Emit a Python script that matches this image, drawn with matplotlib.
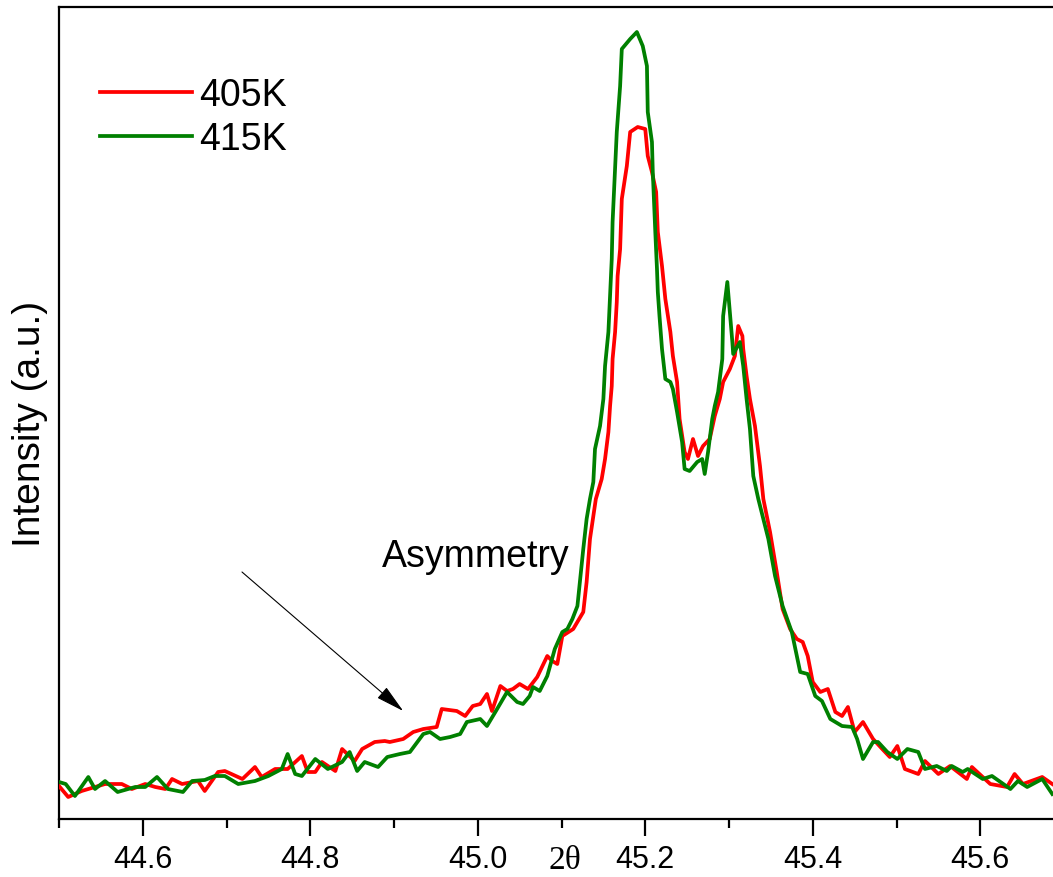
import matplotlib
matplotlib.use("Agg")
import matplotlib.pyplot as plt
from matplotlib.ticker import MultipleLocator

plt.rcParams['font.family'] = ['Liberation Sans', 'DejaVu Sans']

# ---- data (2theta in degrees, intensity in arbitrary units) ----
x_405 = [44.500, 44.511, 44.527, 44.555, 44.575, 44.587, 44.603, 44.615, 44.627, 44.635,
         44.647, 44.666, 44.674, 44.690, 44.698, 44.719, 44.734, 44.742, 44.758, 44.773,
         44.790, 44.797, 44.806, 44.814, 44.830, 44.838, 44.853, 44.862, 44.877, 44.889,
         44.895, 44.911, 44.923, 44.935, 44.951, 44.957, 44.975, 44.985, 44.994, 45.003,
         45.011, 45.017, 45.027, 45.035, 45.042, 45.050, 45.060, 45.071, 45.083, 45.089,
         45.095, 45.101, 45.114, 45.126, 45.130, 45.134, 45.141, 45.148, 45.152, 45.156,
         45.158, 45.160, 45.161, 45.164, 45.166, 45.167, 45.170, 45.172, 45.178, 45.182,
         45.191, 45.200, 45.203, 45.208, 45.213, 45.215, 45.220, 45.224, 45.230, 45.233,
         45.238, 45.241, 45.247, 45.251, 45.257, 45.263, 45.269, 45.277, 45.283, 45.289,
         45.293, 45.301, 45.307, 45.311, 45.316, 45.317, 45.321, 45.325, 45.331, 45.337,
         45.341, 45.349, 45.357, 45.364, 45.373, 45.381, 45.388, 45.394, 45.400, 45.409,
         45.418, 45.427, 45.435, 45.442, 45.450, 45.460, 45.472, 45.483, 45.492, 45.501,
         45.510, 45.526, 45.534, 45.550, 45.564, 45.584, 45.590, 45.612, 45.632, 45.641,
         45.651, 45.674, 45.686]
i_405 = [33, 22, 28, 35, 35, 30, 35, 32, 30, 40,
         35, 38, 28, 47, 48, 40, 52, 42, 50, 50,
         63, 47, 47, 57, 48, 70, 58, 70, 77, 78,
         77, 80, 87, 90, 92, 110, 108, 103, 113, 115,
         125, 108, 133, 128, 130, 135, 130, 142, 163, 158,
         155, 183, 190, 207, 237, 280, 320, 340, 360, 387,
         413, 433, 460, 487, 517, 543, 570, 620, 653, 687,
         692, 690, 663, 647, 627, 587, 553, 520, 487, 463,
         437, 400, 367, 360, 380, 363, 373, 380, 403, 420,
         437, 450, 463, 493, 483, 470, 443, 420, 393, 353,
         320, 287, 247, 210, 190, 180, 177, 163, 137, 127,
         130, 107, 103, 112, 87, 97, 80, 70, 62, 73,
         50, 45, 58, 45, 53, 40, 52, 35, 32, 45,
         35, 42, 35]

x_415 = [44.500, 44.508, 44.519, 44.535, 44.543, 44.555, 44.570, 44.591, 44.603, 44.617,
         44.630, 44.648, 44.659, 44.674, 44.686, 44.698, 44.714, 44.734, 44.750, 44.766,
         44.773, 44.782, 44.790, 44.806, 44.821, 44.838, 44.847, 44.856, 44.865, 44.881,
         44.892, 44.907, 44.919, 44.935, 44.943, 44.955, 44.967, 44.979, 44.987, 45.003,
         45.011, 45.021, 45.035, 45.047, 45.054, 45.062, 45.066, 45.074, 45.083, 45.092,
         45.101, 45.107, 45.113, 45.119, 45.126, 45.130, 45.134, 45.138, 45.140, 45.146,
         45.150, 45.152, 45.156, 45.158, 45.160, 45.161, 45.166, 45.170, 45.172, 45.182,
         45.190, 45.197, 45.202, 45.203, 45.208, 45.209, 45.212, 45.214, 45.215, 45.217,
         45.220, 45.224, 45.230, 45.233, 45.238, 45.244, 45.247, 45.253, 45.262, 45.268,
         45.271, 45.275, 45.280, 45.283, 45.287, 45.292, 45.293, 45.298, 45.301, 45.304,
         45.305, 45.313, 45.317, 45.321, 45.325, 45.329, 45.335, 45.347, 45.355, 45.364,
         45.375, 45.385, 45.394, 45.403, 45.411, 45.421, 45.435, 45.447, 45.453, 45.460,
         45.472, 45.478, 45.489, 45.501, 45.513, 45.526, 45.534, 45.548, 45.560, 45.566,
         45.579, 45.585, 45.603, 45.614, 45.636, 45.645, 45.656, 45.674, 45.686]
i_415 = [37, 35, 23, 42, 30, 38, 27, 32, 32, 42,
         30, 27, 38, 39, 43, 43, 35, 38, 43, 50,
         65, 45, 43, 60, 50, 57, 67, 48, 57, 52,
         62, 65, 67, 85, 87, 80, 82, 85, 97, 100,
         93, 107, 127, 117, 115, 123, 132, 128, 143, 170,
         187, 190, 200, 213, 270, 300, 320, 337, 370, 393,
         420, 453, 487, 523, 560, 597, 687, 733, 770, 780,
         787, 773, 753, 707, 677, 647, 587, 550, 527, 503,
         470, 440, 437, 430, 407, 377, 350, 348, 357, 360,
         345, 367, 400, 413, 427, 460, 503, 537, 507, 477,
         465, 477, 453, 420, 390, 343, 320, 280, 243, 213,
         187, 147, 145, 123, 118, 100, 93, 92, 80, 60,
         77, 77, 67, 60, 70, 67, 50, 53, 48, 53,
         47, 50, 40, 43, 30, 38, 32, 40, 25]

labels = ['405K', '415K']
colors = ['#FF0000', '#008000']
xticks_major = [44.6, 44.8, 45.0, 45.2, 45.4, 45.6]

# ---- figure ----
W, H = 1053, 878
fig = plt.figure(figsize=(W / 100, H / 100), dpi=100)
px_per_deg = 837.5
x0, x1 = 44.5, 45.8
left_px, bottom_px, top_px = 59, 820, 8
ax = fig.add_axes([left_px / W, (H - bottom_px) / H,
                   (x1 - x0) * px_per_deg / W, (bottom_px - top_px) / H])

ax.plot(x_405, i_405, color=colors[0], lw=2.7, label=labels[0], zorder=3)
ax.plot(x_415, i_415, color=colors[1], lw=2.7, label=labels[1], zorder=4)

ax.set_xlim(x0, x1)
ax.set_ylim(0, 812)
ax.set_yticks([])
ax.set_xticks(xticks_major)
ax.set_xticklabels([f"{v:.1f}" for v in xticks_major])
ax.xaxis.set_minor_locator(MultipleLocator(0.1))
ax.tick_params(axis='x', which='major', direction='out', length=12, width=1.6,
               labelsize=22, pad=6)
ax.tick_params(axis='x', which='minor', direction='out', length=6.5, width=1.6)
for s in ax.spines.values():
    s.set_linewidth(1.6)

# legend
leg = ax.legend(loc='upper left', bbox_to_anchor=(100 / W, 1 - 78 / H),
                bbox_transform=fig.transFigure, frameon=False, fontsize=27,
                handlelength=2.45, handletextpad=0.2, labelspacing=0.22,
                borderpad=0, borderaxespad=0)

# axis labels
fig.text(30 / W, 1 - 424 / H, 'Intensity (a.u.)', rotation=90, fontsize=28,
         ha='center', va='center')
fig.text(565 / W, 2 / H, '2\u03b8', fontsize=24, ha='center', va='bottom',
         family=['Liberation Serif', 'DejaVu Serif'])

# annotation
ax.text(44.886, 253, 'Asymmetry', fontsize=27, ha='left', va='baseline')
ax.annotate('', xy=(44.911, 108), xytext=(44.7185, 247),
            arrowprops=dict(arrowstyle='-|>,head_length=0.9,head_width=0.22',
                            lw=0.8, color='black', mutation_scale=20,
                            shrinkA=0, shrinkB=0))

fig.savefig('out.png', dpi=100)
